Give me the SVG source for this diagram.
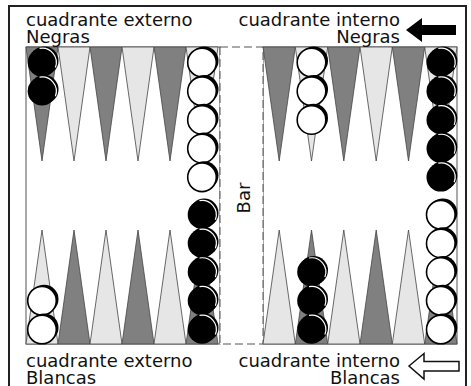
<svg xmlns="http://www.w3.org/2000/svg" xmlns:xlink="http://www.w3.org/1999/xlink" width="471" height="386" viewBox="0 0 471 386">
<style>
  .lbl { font-family: "DejaVu Sans", Verdana, sans-serif; font-size: 18px; fill: #111; }
  .dk { fill: #808080; stroke: #444; stroke-width: 0.8; }
  .lt { fill: #e6e6e6; stroke: #444; stroke-width: 0.8; }
  .half { fill: #fff; stroke: #555; stroke-width: 1; }
</style>
<defs>
  <g id="bk">
    <circle cx="2.2" cy="-1.8" r="14.3" fill="#000"/>
    <circle r="14.3" fill="#000"/>
    <path d="M-2.5,-14.1 A14.3,14.3 0 0 1 13.4,5" fill="none" stroke="#fff" stroke-width="1.2"/>
  </g>
  <g id="wh">
    <circle cx="2.2" cy="-1.8" r="14.3" fill="#000"/>
    <circle r="14.3" fill="#fff" stroke="#000" stroke-width="1.6"/>
  </g>
</defs>
<rect width="471" height="386" fill="#fff"/>
<path d="M9,390 V6 H466 V390" fill="none" stroke="#222" stroke-width="2"/>

<g id="board">
  <rect class="half" x="26" y="47" width="194" height="297"/>
  <rect class="half" x="263" y="47" width="194" height="297"/>
  <rect x="220" y="47" width="43" height="297" fill="#fff" stroke="#555" stroke-width="1" stroke-dasharray="8,4"/>
  <text class="lbl" transform="translate(250,198) rotate(-90)" text-anchor="middle">Bar</text>
</g>

<g id="points-top-left">
  <polygon class="dk" points="26,47 58,47 42,161"/>
  <polygon class="lt" points="58,47 90,47 74,161"/>
  <polygon class="dk" points="90,47 122,47 106,161"/>
  <polygon class="lt" points="122,47 154,47 138,161"/>
  <polygon class="dk" points="154,47 186,47 170,161"/>
  <polygon class="lt" points="186,47 218,47 202,161"/>
</g>
<g id="points-top-right">
  <polygon class="dk" points="263,47 295.3,47 279.2,161"/>
  <polygon class="lt" points="295.3,47 327.7,47 311.5,161"/>
  <polygon class="dk" points="327.7,47 360,47 343.8,161"/>
  <polygon class="lt" points="360,47 392.3,47 376.2,161"/>
  <polygon class="dk" points="392.3,47 424.7,47 408.5,161"/>
  <polygon class="lt" points="424.7,47 457,47 440.8,161"/>
</g>
<g id="points-bottom-left">
  <polygon class="lt" points="26,344 58,344 42,230"/>
  <polygon class="dk" points="58,344 90,344 74,230"/>
  <polygon class="lt" points="90,344 122,344 106,230"/>
  <polygon class="dk" points="122,344 154,344 138,230"/>
  <polygon class="lt" points="154,344 186,344 170,230"/>
  <polygon class="dk" points="186,344 218,344 202,230"/>
</g>
<g id="points-bottom-right">
  <polygon class="lt" points="263,344 295.3,344 279.2,230"/>
  <polygon class="dk" points="295.3,344 327.7,344 311.5,230"/>
  <polygon class="lt" points="327.7,344 360,344 343.8,230"/>
  <polygon class="dk" points="360,344 392.3,344 376.2,230"/>
  <polygon class="lt" points="392.3,344 424.7,344 408.5,230"/>
  <polygon class="dk" points="424.7,344 457,344 440.8,230"/>
</g>

<g id="checkers">
  <use xlink:href="#bk" x="42" y="62.5"/>
  <use xlink:href="#bk" x="42" y="91.2"/>

  <use xlink:href="#wh" x="202" y="62.5"/>
  <use xlink:href="#wh" x="202" y="91.2"/>
  <use xlink:href="#wh" x="202" y="119.9"/>
  <use xlink:href="#wh" x="202" y="148.6"/>
  <use xlink:href="#wh" x="202" y="177.3"/>

  <use xlink:href="#wh" x="311.5" y="62.5"/>
  <use xlink:href="#wh" x="311.5" y="91.2"/>
  <use xlink:href="#wh" x="311.5" y="119.9"/>

  <use xlink:href="#bk" x="440.8" y="62.5"/>
  <use xlink:href="#bk" x="440.8" y="91.2"/>
  <use xlink:href="#bk" x="440.8" y="119.9"/>
  <use xlink:href="#bk" x="440.8" y="148.6"/>
  <use xlink:href="#bk" x="440.8" y="177.3"/>

  <use xlink:href="#wh" x="42" y="300.8"/>
  <use xlink:href="#wh" x="42" y="329.5"/>

  <use xlink:href="#bk" x="202" y="214.7"/>
  <use xlink:href="#bk" x="202" y="243.4"/>
  <use xlink:href="#bk" x="202" y="272.1"/>
  <use xlink:href="#bk" x="202" y="300.8"/>
  <use xlink:href="#bk" x="202" y="329.5"/>

  <use xlink:href="#bk" x="311.5" y="272.1"/>
  <use xlink:href="#bk" x="311.5" y="300.8"/>
  <use xlink:href="#bk" x="311.5" y="329.5"/>

  <use xlink:href="#wh" x="440.8" y="214.7"/>
  <use xlink:href="#wh" x="440.8" y="243.4"/>
  <use xlink:href="#wh" x="440.8" y="272.1"/>
  <use xlink:href="#wh" x="440.8" y="300.8"/>
  <use xlink:href="#wh" x="440.8" y="329.5"/>
</g>

<g id="labels">
  <text class="lbl" x="26" y="26">cuadrante externo</text>
  <text class="lbl" x="26" y="42.5">Negras</text>
  <text class="lbl" x="400" y="26" text-anchor="end">cuadrante interno</text>
  <text class="lbl" x="400" y="42.5" text-anchor="end">Negras</text>
  <text class="lbl" x="26" y="367">cuadrante externo</text>
  <text class="lbl" x="26" y="383.5">Blancas</text>
  <text class="lbl" x="400" y="367" text-anchor="end">cuadrante interno</text>
  <text class="lbl" x="400" y="383.5" text-anchor="end">Blancas</text>
</g>

<g id="arrows">
  <polygon points="406,30 422,18 422,25 456,25 456,35 422,35 422,42" fill="#000"/>
  <polygon points="409,366 424,353.5 424,361.5 459,361.5 459,371 424,371 424,379" fill="#fff" stroke="#111" stroke-width="1.5" stroke-linejoin="miter"/>
</g>
</svg>
